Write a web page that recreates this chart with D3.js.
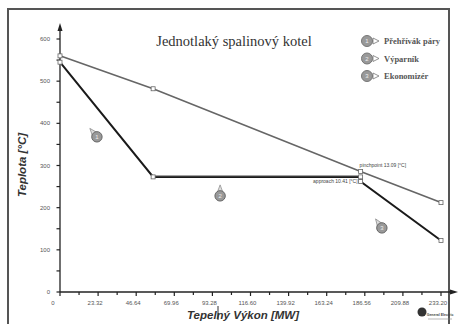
<!DOCTYPE html>
<html lang="en">
<head>
  <meta charset="UTF-8">
  <title>Jednotlaký spalinový kotel</title>
  <script src="https://d3js.org/d3.v7.min.js"></script>
  <style>
    body { margin: 0; background: #fff; }
    svg { display: block; }
    .tick-label { font-family: "Liberation Sans", Arial, sans-serif; font-size: 6px; fill: #555; }
    .axis-title { font-family: "Liberation Sans", Arial, sans-serif; font-size: 11.5px; font-weight: bold; font-style: italic; fill: #333; }
    .title { font-family: "Liberation Serif", "Times New Roman", serif; font-size: 14.5px; fill: #333; }
    .legend { font-family: "Liberation Serif", serif; font-size: 8.5px; font-weight: bold; fill: #555; }
    .note { font-family: "Liberation Sans", Arial, sans-serif; font-size: 5px; fill: #444; }
  </style>
</head>
<body>
<div id="chart"></div>
<script>
// x ticks (MW), y ticks (°C)
const xTicks = [0, 23.32, 46.64, 69.96, 93.28, 116.60, 139.92, 163.24, 186.56, 209.88, 233.20];
const yTicks = [0, 100, 200, 300, 400, 500, 600];

// flue gas line
const gasQ = [0, 57, 184, 233.2];
const gasT = [560, 482, 286, 212];
// water / steam line
const waterQ = [0, 57, 184, 184, 233.2];
const waterT = [545, 273, 273, 262, 122];

// section markers (number, Q, T)
const markerNum = [1, 2, 3];
const markerQ = [22.6, 98, 197];
const markerT = [368, 228, 152];

const legendLabels = ["Přehřívák páry", "Výparník", "Ekonomizér"];

const width = 459, height = 324;
const svg = d3.select("#chart").append("svg")
  .attr("width", width).attr("height", height);

// frame
svg.append("rect")
  .attr("x", 8).attr("y", 9).attr("width", 441).attr("height", 330)
  .attr("fill", "none").attr("stroke", "#555").attr("stroke-width", 2);

const x = d3.scaleLinear().domain([0, 233.2]).range([60, 441]);
const y = d3.scaleLinear().domain([0, 600]).range([292, 39]);

// axes lines with arrows
svg.append("line").attr("x1", x(0)).attr("x2", 452).attr("y1", y(0)).attr("y2", y(0))
  .attr("stroke", "#222").attr("stroke-width", 1.3);
svg.append("path").attr("d", `M458,${y(0)} L450,${y(0)-2.5} L450,${y(0)+2.5} Z`).attr("fill", "#222");
svg.append("line").attr("x1", x(0)).attr("x2", x(0)).attr("y1", y(0)).attr("y2", 30)
  .attr("stroke", "#222").attr("stroke-width", 1.3);
svg.append("path").attr("d", `M${x(0)},23 L${x(0)-2.5},31 L${x(0)+2.5},31 Z`).attr("fill", "#222");

// x ticks
const xMinor = d3.range(0, 21).map(i => i * 11.66);
svg.selectAll(".xt").data(xMinor).enter().append("line")
  .attr("x1", d => x(d)).attr("x2", d => x(d))
  .attr("y1", y(0)).attr("y2", (d, i) => y(0) + (i % 2 === 0 ? 4 : 3))
  .attr("stroke", "#222").attr("stroke-width", 1.2);
svg.selectAll(".xl").data(xTicks).enter().append("text")
  .attr("class", "tick-label")
  .attr("x", (d, i) => i === 0 ? x(d) - 7 : x(d) - 3)
  .attr("y", 305)
  .attr("text-anchor", "middle")
  .text(d => d === 0 ? "0" : d.toFixed(2));

// y ticks
const yMinor = d3.range(0, 13).map(i => i * 50);
svg.selectAll(".yt").data(yMinor).enter().append("line")
  .attr("x1", x(0)).attr("x2", x(0) - 3.5)
  .attr("y1", d => y(d)).attr("y2", d => y(d))
  .attr("stroke", "#222").attr("stroke-width", 1.2);
svg.selectAll(".yl").data(yTicks).enter().append("text")
  .attr("class", "tick-label")
  .attr("x", 50).attr("y", d => y(d) + 2)
  .attr("text-anchor", "end")
  .text(d => d);

// titles
svg.append("text").attr("class", "title").attr("x", 234).attr("y", 46)
  .attr("text-anchor", "middle").text("Jednotlaký spalinový kotel");
svg.append("text").attr("class", "axis-title")
  .attr("transform", "translate(26,165) rotate(-90)")
  .attr("text-anchor", "middle").text("Teplota [°C]");
svg.append("text").attr("class", "axis-title").attr("x", 243).attr("y", 319)
  .attr("text-anchor", "middle").text("Tepelný Výkon [MW]");
svg.append("line").attr("x1", 218).attr("x2", 218).attr("y1", 306).attr("y2", 320)
  .attr("stroke", "#333").attr("stroke-width", 1);

// lines
const line = d3.line().x(d => x(d[0])).y(d => y(d[1]));
const gasPts = gasQ.map((q, i) => [q, gasT[i]]);
const waterPts = waterQ.map((q, i) => [q, waterT[i]]);

svg.append("path").attr("d", line(gasPts))
  .attr("fill", "none").attr("stroke", "#666").attr("stroke-width", 1.6);
svg.append("path").attr("d", line(waterPts))
  .attr("fill", "none").attr("stroke", "#1a1a1a").attr("stroke-width", 2);
// doubled look of the evaporator line
svg.append("path").attr("d", line(waterPts.slice(1, 3).map(p => [p[0], p[1] + 2.5])))
  .attr("fill", "none").attr("stroke", "#777").attr("stroke-width", 1);

// point markers
svg.selectAll(".pm").data(gasPts.concat(waterPts)).enter().append("rect")
  .attr("x", d => x(d[0]) - 2).attr("y", d => y(d[1]) - 2)
  .attr("width", 4).attr("height", 4)
  .attr("fill", "#fff").attr("stroke", "#666").attr("stroke-width", 0.8);

// pinch / approach notes
svg.append("text").attr("class", "note")
  .attr("x", x(gasQ[2]) - 1).attr("y", y(gasT[2]) - 4)
  .text("pinchpoint 13.09 [°C]");
svg.append("text").attr("class", "note")
  .attr("x", x(waterQ[3]) - 3).attr("y", y(waterT[3]) + 1)
  .attr("text-anchor", "end")
  .text("approach 10.41 [°C]");

// numbered section markers with pointer
const pointerAngle = [-40, 0, -35];
markerNum.forEach((n, i) => {
  const g = svg.append("g")
    .attr("transform", `translate(${x(markerQ[i])},${y(markerT[i])})`);
  g.append("path")
    .attr("transform", `rotate(${pointerAngle[i]})`)
    .attr("d", "M-3,-3 L0,-11 L3,-3 Z")
    .attr("fill", "#ddd").attr("stroke", "#888").attr("stroke-width", 0.7);
  g.append("circle").attr("r", 5.2)
    .attr("fill", "#999").attr("stroke", "#666").attr("stroke-width", 1);
  g.append("text").attr("y", 2.2).attr("text-anchor", "middle")
    .attr("font-family", "Liberation Sans, sans-serif").attr("font-size", 6)
    .attr("fill", "#eee").text(n);
});

// legend
const leg = svg.selectAll(".leg").data(legendLabels).enter().append("g")
  .attr("transform", (d, i) => `translate(367,${41 + i * 17.5})`);
leg.append("circle").attr("r", 5.5)
  .attr("fill", "#999").attr("stroke", "#777").attr("stroke-width", 1);
leg.append("text").attr("y", 2.2).attr("text-anchor", "middle")
  .attr("font-family", "Liberation Sans, sans-serif").attr("font-size", 6)
  .attr("fill", "#eee").text((d, i) => i + 1);
leg.append("path").attr("d", "M6,-3 L12,0 L6,3 Z")
  .attr("fill", "#fff").attr("stroke", "#777").attr("stroke-width", 0.8);
leg.append("text").attr("class", "legend").attr("x", 17).attr("y", 3)
  .text(d => d);

// small logo bottom right
svg.append("circle").attr("cx", 422).attr("cy", 312).attr("r", 4.5).attr("fill", "#333");
svg.append("text").attr("x", 440).attr("y", 316).attr("text-anchor", "middle")
  .attr("font-family", "Liberation Sans, sans-serif").attr("font-size", 3.5)
  .attr("font-weight", "bold").attr("fill", "#444").text("General Electric");
svg.append("line").attr("x1", 428).attr("x2", 452).attr("y1", 319).attr("y2", 319)
  .attr("stroke", "#888").attr("stroke-width", 0.6);
</script>
</body>
</html>
